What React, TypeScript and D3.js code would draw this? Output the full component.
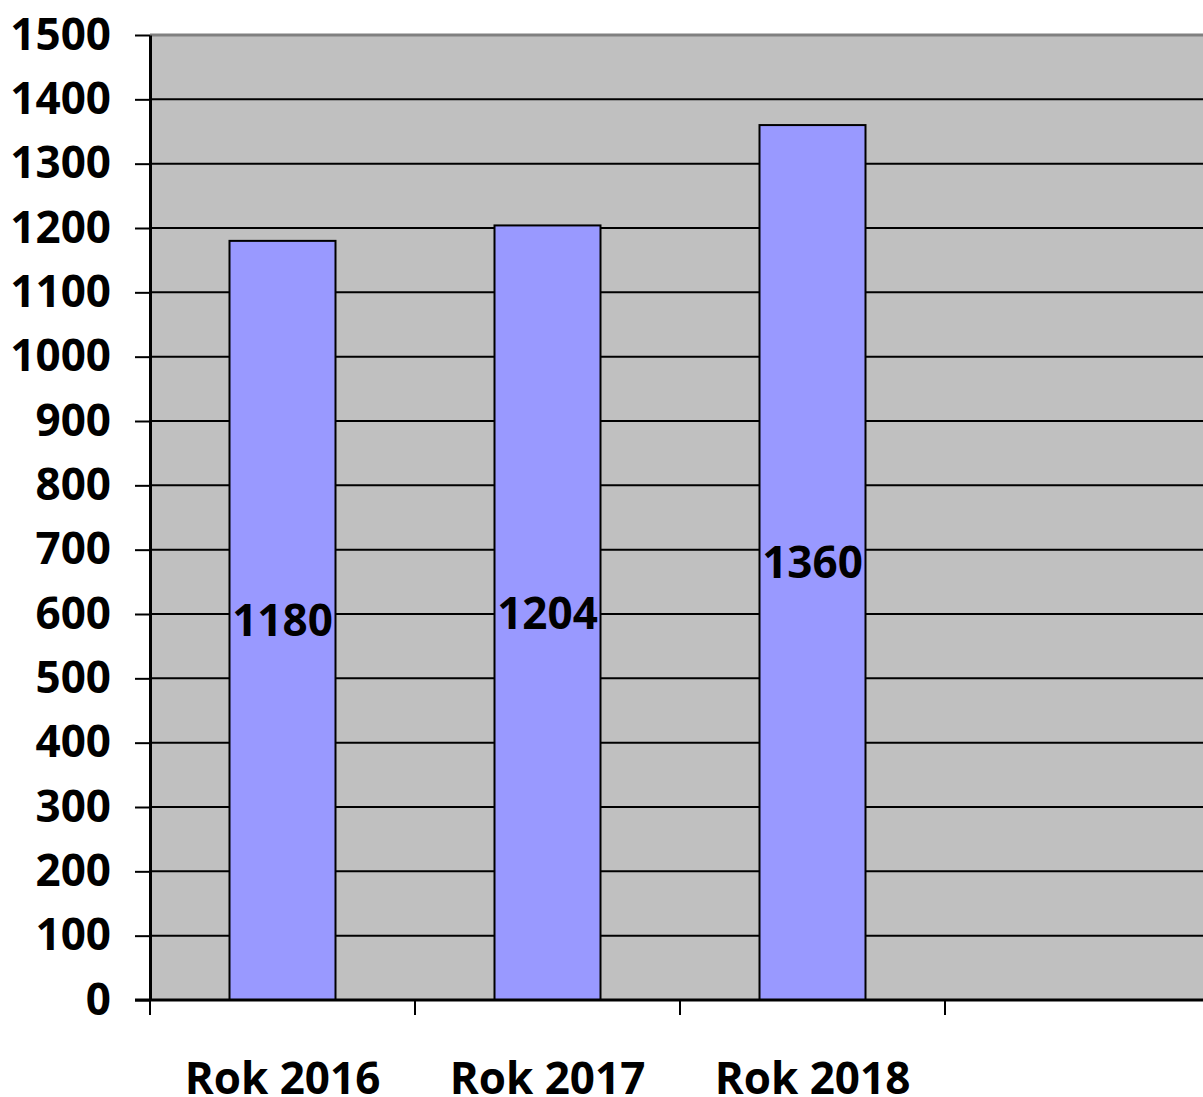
// Bar chart: Rok 2016-2018 values on gray plot area
import React, { useEffect, useRef } from 'react';
import * as d3 from 'd3';

const categories = ['Rok 2016', 'Rok 2017', 'Rok 2018', ''];
const values = [1180, 1204, 1360];
const yTicks = [0, 100, 200, 300, 400, 500, 600, 700, 800, 900, 1000, 1100, 1200, 1300, 1400, 1500];

const App: React.FC = () => {
  const svgRef = useRef<SVGSVGElement>(null);

  useEffect(() => {
    const svg = d3.select(svgRef.current);
    svg.selectAll('*').remove();

    const width = 1203;
    const height = 1097;
    const margin = { top: 35, left: 150, bottom: 97 };
    const plotRight = 1210;
    const font = '"Open Sans", "Noto Sans", sans-serif';
    const fontSize = '44px';

    const x = d3
      .scaleBand<string>()
      .domain(categories)
      .range([margin.left, plotRight])
      .paddingInner(0.6)
      .paddingOuter(0.3);

    const y = d3
      .scaleLinear()
      .domain([0, 1500])
      .range([height - margin.bottom, margin.top]);

    // plot background
    svg
      .append('rect')
      .attr('x', margin.left)
      .attr('y', margin.top)
      .attr('width', plotRight - margin.left)
      .attr('height', y(0) - margin.top)
      .attr('fill', '#c0c0c0');

    // top border
    svg
      .append('line')
      .attr('x1', margin.left)
      .attr('x2', plotRight)
      .attr('y1', margin.top)
      .attr('y2', margin.top)
      .attr('stroke', '#808080')
      .attr('stroke-width', 3);

    // gridlines
    svg
      .append('g')
      .selectAll('line')
      .data(yTicks.filter((t) => t > 0 && t < 1500))
      .join('line')
      .attr('x1', margin.left)
      .attr('x2', plotRight)
      .attr('y1', (d) => y(d))
      .attr('y2', (d) => y(d))
      .attr('stroke', '#000')
      .attr('stroke-width', 2);

    // bars
    svg
      .append('g')
      .selectAll('rect')
      .data(values)
      .join('rect')
      .attr('x', (_, i) => x(categories[i])!)
      .attr('y', (d) => y(d))
      .attr('width', x.bandwidth())
      .attr('height', (d) => y(0) - y(d))
      .attr('fill', '#9999ff')
      .attr('stroke', '#000')
      .attr('stroke-width', 2);

    // value labels
    svg
      .append('g')
      .selectAll('text')
      .data(values)
      .join('text')
      .attr('x', (_, i) => x(categories[i])! + x.bandwidth() / 2)
      .attr('y', (d) => (y(d) + y(0)) / 2)
      .attr('dy', '0.36em')
      .attr('text-anchor', 'middle')
      .style('font-family', font)
      .style('font-size', fontSize)
      .style('font-weight', '700')
      .attr('fill', '#000')
      .text((d) => d);

    // y axis
    const yAxis = svg
      .append('g')
      .attr('transform', `translate(${margin.left},0)`)
      .call(
        d3
          .axisLeft(y)
          .tickValues(yTicks)
          .tickFormat(d3.format('d'))
          .tickSize(15)
          .tickPadding(24)
          .tickSizeOuter(0)
      );
    yAxis.select('.domain').attr('stroke', '#000').attr('stroke-width', 3);
    yAxis.selectAll('.tick line').attr('stroke', '#000').attr('stroke-width', 2);
    yAxis
      .selectAll('.tick text')
      .attr('fill', '#000')
      .style('font-family', font)
      .style('font-size', fontSize)
      .style('font-weight', '700');

    // x axis baseline and ticks at band boundaries
    svg
      .append('line')
      .attr('x1', margin.left - 15)
      .attr('x2', plotRight)
      .attr('y1', y(0))
      .attr('y2', y(0))
      .attr('stroke', '#000')
      .attr('stroke-width', 3);

    const step = x.step();
    svg
      .append('g')
      .selectAll('line')
      .data(categories)
      .join('line')
      .attr('x1', (d) => x(d)! - step * 0.3)
      .attr('x2', (d) => x(d)! - step * 0.3)
      .attr('y1', y(0))
      .attr('y2', y(0) + 15)
      .attr('stroke', '#000')
      .attr('stroke-width', 2);

    // category labels
    svg
      .append('g')
      .selectAll('text')
      .data(categories)
      .join('text')
      .attr('x', (d) => x(d)! + x.bandwidth() / 2)
      .attr('y', 1078)
      .attr('dy', '0.36em')
      .attr('text-anchor', 'middle')
      .style('font-family', font)
      .style('font-size', fontSize)
      .style('font-weight', '700')
      .attr('fill', '#000')
      .text((d) => d);

    svg.attr('width', width).attr('height', height);
  }, []);

  return (
    <div style={{ position: 'absolute', left: 0, top: 0, width: 1203, height: 1097, background: '#fff', overflow: 'hidden' }}>
      <svg ref={svgRef} width={1203} height={1097} style={{ display: 'block' }}></svg>
    </div>
  );
};

export default App;
